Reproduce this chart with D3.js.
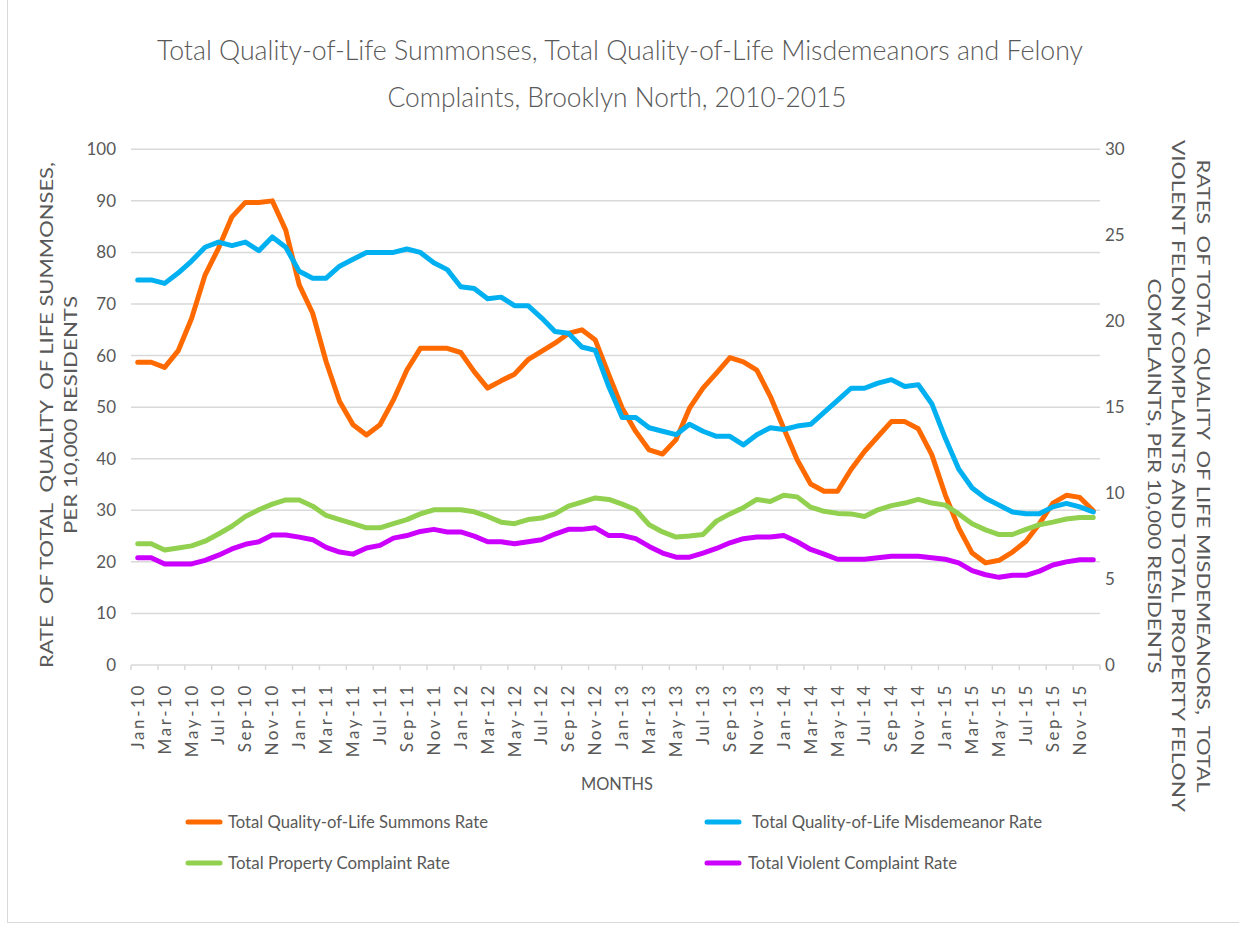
<!DOCTYPE html>
<html>
<head>
<meta charset="utf-8">
<script src="https://cdn.jsdelivr.net/npm/d3@7"></script>
<style>
  body { margin: 0; background: #fff; }
  text { font-family: Lato, "Open Sans", sans-serif; fill: #595959; }
</style>
</head>
<body>
<svg id="chart" width="1239" height="926"></svg>
<script>
// Month categories, Jan-10 .. Dec-15
const monthNames = ["Jan", "Feb", "Mar", "Apr", "May", "Jun", "Jul", "Aug", "Sep", "Oct", "Nov", "Dec"];
const years = ["10", "11", "12", "13", "14", "15"];
const months = years.flatMap(y => monthNames.map(m => `${m}-${y}`));

// Quality-of-life summons rate per 10,000 residents (left axis)
const summonsRate = [
  58.7, 58.7, 57.7, 60.9, 67.2, 75.6, 80.8, 86.9, 89.7, 89.7, 90.0, 84.3,
  73.7, 68.2, 58.8, 51.1, 46.6, 44.6, 46.6, 51.4, 57.2, 61.4, 61.4, 61.4,
  60.6, 56.9, 53.7, 55.1, 56.4, 59.2, 60.8, 62.4, 64.3, 65.0, 63.0, 56.3,
  49.8, 45.3, 41.7, 40.9, 43.7, 49.8, 53.7, 56.6, 59.6, 58.8, 57.2, 52.1,
  45.9, 39.8, 35.1, 33.7, 33.7, 37.9, 41.4, 44.3, 47.2, 47.2, 45.8, 40.8,
  33.0, 26.6, 21.7, 19.8, 20.3, 21.9, 24.0, 27.4, 31.4, 32.9, 32.5, 29.9
];

// Misdemeanor, property and violent complaint rates per 10,000 residents (right axis)
const misdemeanorRate = [
  22.4, 22.4, 22.2, 22.8, 23.5, 24.3, 24.6, 24.4, 24.6, 24.1, 24.9, 24.3,
  22.9, 22.5, 22.5, 23.2, 23.6, 24.0, 24.0, 24.0, 24.2, 24.0, 23.4, 23.0,
  22.0, 21.9, 21.3, 21.4, 20.9, 20.9, 20.2, 19.4, 19.3, 18.5, 18.3, 16.2,
  14.4, 14.4, 13.8, 13.6, 13.4, 14.0, 13.6, 13.3, 13.3, 12.8, 13.4, 13.8,
  13.7, 13.9, 14.0, 14.7, 15.4, 16.1, 16.1, 16.4, 16.6, 16.2, 16.3, 15.2,
  13.2, 11.4, 10.3, 9.7, 9.3, 8.9, 8.8, 8.8, 9.2, 9.4, 9.2, 8.9
];
const propertyRate = [
  7.05, 7.05, 6.69, 6.81, 6.93, 7.20, 7.62, 8.07, 8.64, 9.03, 9.36, 9.60,
  9.60, 9.24, 8.70, 8.46, 8.22, 7.98, 7.98, 8.22, 8.46, 8.79, 9.03, 9.03,
  9.03, 8.91, 8.64, 8.31, 8.22, 8.46, 8.55, 8.79, 9.24, 9.48, 9.72, 9.63,
  9.36, 9.03, 8.16, 7.74, 7.44, 7.50, 7.59, 8.37, 8.79, 9.15, 9.63, 9.51,
  9.87, 9.78, 9.18, 8.94, 8.82, 8.79, 8.64, 9.03, 9.27, 9.42, 9.63, 9.42,
  9.30, 8.79, 8.22, 7.86, 7.59, 7.59, 7.89, 8.16, 8.31, 8.49, 8.58, 8.58
];
const violentRate = [
  6.24, 6.24, 5.88, 5.88, 5.88, 6.09, 6.39, 6.75, 7.02, 7.17, 7.56, 7.56,
  7.44, 7.29, 6.84, 6.57, 6.45, 6.81, 6.96, 7.38, 7.53, 7.77, 7.89, 7.74,
  7.74, 7.50, 7.17, 7.17, 7.05, 7.17, 7.29, 7.62, 7.89, 7.89, 7.98, 7.53,
  7.53, 7.35, 6.90, 6.51, 6.27, 6.27, 6.51, 6.78, 7.11, 7.35, 7.44, 7.44,
  7.53, 7.17, 6.72, 6.45, 6.15, 6.15, 6.15, 6.24, 6.33, 6.33, 6.33, 6.24,
  6.15, 5.94, 5.49, 5.25, 5.10, 5.22, 5.22, 5.46, 5.82, 6.00, 6.12, 6.12
];

const leftTicks = [0, 10, 20, 30, 40, 50, 60, 70, 80, 90, 100];
const rightTicks = [0, 5, 10, 15, 20, 25, 30];

const seriesList = [
  { name: "Total Quality-of-Life Summons Rate", values: summonsRate, axis: "left", color: "#FF6A00" },
  { name: "Total Quality-of-Life Misdemeanor Rate", values: misdemeanorRate, axis: "right", color: "#00B0F0" },
  { name: "Total Property Complaint Rate", values: propertyRate, axis: "right", color: "#92D050" },
  { name: "Total Violent Complaint Rate", values: violentRate, axis: "right", color: "#CC00FF" }
];

const svg = d3.select("#chart");
const plot = { left: 131, right: 1100, top: 149.3, bottom: 665 };

// chart frame
svg.append("rect").attr("x", 7.5).attr("y", -2).attr("width", 1300).attr("height", 924.5)
  .attr("fill", "none").attr("stroke", "#d9d9d9").attr("stroke-width", 1);

const x = d3.scaleBand().domain(months).range([plot.left, plot.right]).padding(0);
const bw = x.bandwidth();
const yL = d3.scaleLinear().domain([0, 100]).range([plot.bottom, plot.top]);
const yR = d3.scaleLinear().domain([0, 30]).range([plot.bottom, plot.top]);

// horizontal gridlines
svg.append("g").selectAll("line").data(leftTicks.filter(d => d > 0)).join("line")
  .attr("x1", plot.left).attr("x2", plot.right)
  .attr("y1", d => yL(d)).attr("y2", d => yL(d))
  .attr("stroke", "#d9d9d9").attr("stroke-width", 1.5);

// left axis labels
const leftAxis = d3.axisLeft(yL).tickValues(leftTicks).tickSize(0).tickPadding(15);
const gL = svg.append("g").attr("transform", `translate(${plot.left},0)`).call(leftAxis);
gL.select(".domain").remove();
gL.selectAll("text").style("font-size", "17px").attr("fill", "#595959");

// right axis labels
const rightAxis = d3.axisRight(yR).tickValues(rightTicks).tickSize(0).tickPadding(5);
const gR = svg.append("g").attr("transform", `translate(${plot.right},0)`).call(rightAxis);
gR.select(".domain").remove();
gR.selectAll("text").style("font-size", "17px").attr("fill", "#595959");

// bottom category axis: ticks every two months at category boundaries
const gX = svg.append("g");
gX.append("line").attr("x1", plot.left).attr("x2", plot.right)
  .attr("y1", plot.bottom).attr("y2", plot.bottom)
  .attr("stroke", "#d9d9d9").attr("stroke-width", 1.5);
const tickMonths = months.filter((m, i) => i % 2 === 0);
gX.selectAll("line.tick").data(tickMonths.concat([null])).join("line").attr("class", "tick")
  .attr("x1", d => d === null ? plot.right : x(d)).attr("x2", d => d === null ? plot.right : x(d))
  .attr("y1", plot.bottom).attr("y2", plot.bottom + 5)
  .attr("stroke", "#d9d9d9").attr("stroke-width", 1.5);
gX.selectAll("text").data(tickMonths).join("text")
  .attr("transform", d => `translate(${x(d) + bw / 2},${plot.bottom + 18}) rotate(-90)`)
  .attr("text-anchor", "end").attr("dy", "0.35em")
  .style("font-size", "17px").style("letter-spacing", "2.6px")
  .text(d => d);

// series lines
const lineGen = axis => d3.line()
  .x((d, i) => x(months[i]) + bw / 2)
  .y(d => (axis === "left" ? yL : yR)(d));
svg.append("g").selectAll("path").data(seriesList).join("path")
  .attr("d", s => lineGen(s.axis)(s.values))
  .attr("fill", "none").attr("stroke", s => s.color).attr("stroke-width", 5)
  .attr("stroke-linejoin", "round").attr("stroke-linecap", "round");

// title
const title = svg.append("g").style("font-size", "28px").style("font-weight", 300);
title.append("text").attr("x", 620).attr("y", 60).attr("text-anchor", "middle")
  .attr("textLength", 926).attr("lengthAdjust", "spacingAndGlyphs")
  .text("Total Quality-of-Life Summonses, Total Quality-of-Life Misdemeanors and Felony");
title.append("text").attr("x", 617).attr("y", 107).attr("text-anchor", "middle")
  .attr("textLength", 459).attr("lengthAdjust", "spacingAndGlyphs")
  .text("Complaints, Brooklyn North, 2010-2015");

// left axis title
const leftTitle = [
  { text: "RATE  OF TOTAL  QUALITY  OF LIFE SUMMONSES,", x: 53, len: 506 },
  { text: "PER 10,000 RESIDENTS", x: 77, len: 238 }
];
svg.append("g").selectAll("text").data(leftTitle).join("text")
  .attr("transform", d => `translate(${d.x},415) rotate(-90)`)
  .attr("text-anchor", "middle").style("font-size", "18px")
  .attr("textLength", d => d.len).attr("lengthAdjust", "spacingAndGlyphs")
  .style("white-space", "pre")
  .text(d => d.text);

// right axis title
const rightTitle = [
  { text: "RATES  OF TOTAL  QUALITY  OF LIFE MISDEMEANORS,  TOTAL", x: 1197, len: 633 },
  { text: "VIOLENT FELONY COMPLAINTS AND TOTAL PROPERTY FELONY", x: 1172, len: 672 },
  { text: "COMPLAINTS, PER 10,000 RESIDENTS", x: 1148, len: 395 }
];
svg.append("g").selectAll("text").data(rightTitle).join("text")
  .attr("transform", d => `translate(${d.x},476) rotate(90)`)
  .attr("text-anchor", "middle").style("font-size", "18px")
  .attr("textLength", d => d.len).attr("lengthAdjust", "spacingAndGlyphs")
  .style("white-space", "pre")
  .text(d => d.text);

// x axis title
svg.append("text").attr("x", 617).attr("y", 790).attr("text-anchor", "middle")
  .style("font-size", "18px").attr("textLength", 72).attr("lengthAdjust", "spacingAndGlyphs")
  .text("MONTHS");

// legend
const legendPos = [
  { sx: 186, tx: 228, y: 822, len: 260 },
  { sx: 705, tx: 752, y: 822, len: 290 },
  { sx: 186, tx: 228, y: 863, len: 222 },
  { sx: 705, tx: 748, y: 863, len: 209 }
];
const legend = svg.append("g").selectAll("g").data(seriesList).join("g");
legend.append("line")
  .attr("x1", (d, i) => legendPos[i].sx + 2).attr("x2", (d, i) => legendPos[i].sx + 34)
  .attr("y1", (d, i) => legendPos[i].y).attr("y2", (d, i) => legendPos[i].y)
  .attr("stroke", d => d.color).attr("stroke-width", 5).attr("stroke-linecap", "round");
legend.append("text")
  .attr("x", (d, i) => legendPos[i].tx).attr("y", (d, i) => legendPos[i].y).attr("dy", "0.35em")
  .attr("textLength", (d, i) => legendPos[i].len).attr("lengthAdjust", "spacingAndGlyphs")
  .style("font-size", "18px").text(d => d.name);
</script>
</body>
</html>
